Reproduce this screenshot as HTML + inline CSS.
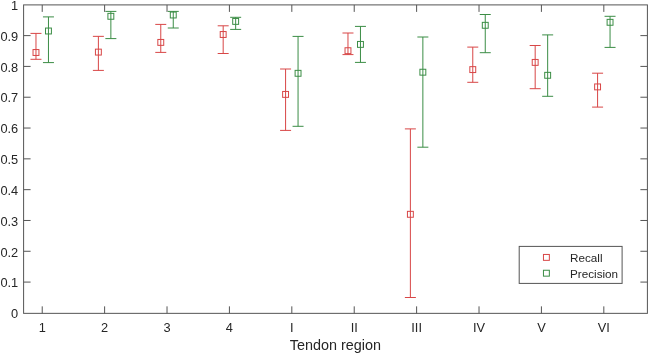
<!DOCTYPE html><html><head><meta charset="utf-8"><style>html,body{margin:0;padding:0;background:#fff;}svg{display:block;will-change:transform;}text{font-family:"Liberation Sans",sans-serif;}</style></head><body>
<svg width="649" height="354" viewBox="0 0 649 354">
<rect width="649" height="354" fill="#fff"/>
<path d="M23.6 282.09h7M647.4 282.09h-7 M23.6 251.28h7M647.4 251.28h-7 M23.6 220.47h7M647.4 220.47h-7 M23.6 189.66h7M647.4 189.66h-7 M23.6 158.85h7M647.4 158.85h-7 M23.6 128.04h7M647.4 128.04h-7 M23.6 97.23h7M647.4 97.23h-7 M23.6 66.42h7M647.4 66.42h-7 M23.6 35.61h7M647.4 35.61h-7 M42.22 313.35v-7M42.22 4.9v7 M104.62 313.35v-7M104.62 4.9v7 M167.02 313.35v-7M167.02 4.9v7 M229.42 313.35v-7M229.42 4.9v7 M291.82 313.35v-7M291.82 4.9v7 M354.22 313.35v-7M354.22 4.9v7 M416.62 313.35v-7M416.62 4.9v7 M479.02 313.35v-7M479.02 4.9v7 M541.42 313.35v-7M541.42 4.9v7 M603.82 313.35v-7M603.82 4.9v7" stroke="#555" stroke-width="1" fill="none"/>
<rect x="23.6" y="4.9" width="623.8" height="308.45000000000005" stroke="#555" stroke-width="1" fill="none"/>
<text x="18.2" y="318.1" font-size="12.8" text-anchor="end" fill="#262626">0</text>
<text x="18.2" y="287.3" font-size="12.8" text-anchor="end" fill="#262626">0.1</text>
<text x="18.2" y="256.5" font-size="12.8" text-anchor="end" fill="#262626">0.2</text>
<text x="18.2" y="225.7" font-size="12.8" text-anchor="end" fill="#262626">0.3</text>
<text x="18.2" y="194.9" font-size="12.8" text-anchor="end" fill="#262626">0.4</text>
<text x="18.2" y="164.0" font-size="12.8" text-anchor="end" fill="#262626">0.5</text>
<text x="18.2" y="133.2" font-size="12.8" text-anchor="end" fill="#262626">0.6</text>
<text x="18.2" y="102.4" font-size="12.8" text-anchor="end" fill="#262626">0.7</text>
<text x="18.2" y="71.6" font-size="12.8" text-anchor="end" fill="#262626">0.8</text>
<text x="18.2" y="40.8" font-size="12.8" text-anchor="end" fill="#262626">0.9</text>
<text x="18.2" y="10.0" font-size="12.8" text-anchor="end" fill="#262626">1</text>
<text x="42.22" y="331.5" font-size="12.8" text-anchor="middle" fill="#262626">1</text>
<text x="104.62" y="331.5" font-size="12.8" text-anchor="middle" fill="#262626">2</text>
<text x="167.02" y="331.5" font-size="12.8" text-anchor="middle" fill="#262626">3</text>
<text x="229.42" y="331.5" font-size="12.8" text-anchor="middle" fill="#262626">4</text>
<text x="291.82" y="331.5" font-size="12.8" text-anchor="middle" fill="#262626">I</text>
<text x="354.22" y="331.5" font-size="12.8" text-anchor="middle" fill="#262626">II</text>
<text x="416.62" y="331.5" font-size="12.8" text-anchor="middle" fill="#262626">III</text>
<text x="479.02" y="331.5" font-size="12.8" text-anchor="middle" fill="#262626">IV</text>
<text x="541.42" y="331.5" font-size="12.8" text-anchor="middle" fill="#262626">V</text>
<text x="603.82" y="331.5" font-size="12.8" text-anchor="middle" fill="#262626">VI</text>
<text x="335.35" y="349.9" font-size="14.4" text-anchor="middle" fill="#262626">Tendon region</text>
<path d="M35.98 33.40V59.30M30.48 33.40h11.0M30.48 59.30h11.0" stroke="#d84646" stroke-width="1" fill="none"/><rect x="33.03" y="49.55" width="5.9" height="5.9" fill="none" stroke="#d84646" stroke-width="1"/>
<path d="M48.46 16.90V62.60M42.96 16.90h11.0M42.96 62.60h11.0" stroke="#3b8d45" stroke-width="1" fill="none"/><rect x="45.51" y="28.05" width="5.9" height="5.9" fill="none" stroke="#3b8d45" stroke-width="1"/>
<path d="M98.38 36.35V70.40M92.88 36.35h11.0M92.88 70.40h11.0" stroke="#d84646" stroke-width="1" fill="none"/><rect x="95.43" y="49.15" width="5.9" height="5.9" fill="none" stroke="#d84646" stroke-width="1"/>
<path d="M110.86 11.40V38.60M105.36 11.40h11.0M105.36 38.60h11.0" stroke="#3b8d45" stroke-width="1" fill="none"/><rect x="107.91" y="13.35" width="5.9" height="5.9" fill="none" stroke="#3b8d45" stroke-width="1"/>
<path d="M160.78 24.40V52.40M155.28 24.40h11.0M155.28 52.40h11.0" stroke="#d84646" stroke-width="1" fill="none"/><rect x="157.83" y="39.45" width="5.9" height="5.9" fill="none" stroke="#d84646" stroke-width="1"/>
<path d="M173.26 11.40V28.00M167.76 11.40h11.0M167.76 28.00h11.0" stroke="#3b8d45" stroke-width="1" fill="none"/><rect x="170.31" y="12.05" width="5.9" height="5.9" fill="none" stroke="#3b8d45" stroke-width="1"/>
<path d="M223.18 25.80V53.50M217.68 25.80h11.0M217.68 53.50h11.0" stroke="#d84646" stroke-width="1" fill="none"/><rect x="220.23" y="31.55" width="5.9" height="5.9" fill="none" stroke="#d84646" stroke-width="1"/>
<path d="M235.66 17.30V29.40M230.16 17.30h11.0M230.16 29.40h11.0" stroke="#3b8d45" stroke-width="1" fill="none"/><rect x="232.71" y="18.45" width="5.9" height="5.9" fill="none" stroke="#3b8d45" stroke-width="1"/>
<path d="M285.58 69.00V130.40M280.08 69.00h11.0M280.08 130.40h11.0" stroke="#d84646" stroke-width="1" fill="none"/><rect x="282.63" y="91.45" width="5.9" height="5.9" fill="none" stroke="#d84646" stroke-width="1"/>
<path d="M298.06 36.40V126.30M292.56 36.40h11.0M292.56 126.30h11.0" stroke="#3b8d45" stroke-width="1" fill="none"/><rect x="295.11" y="70.35" width="5.9" height="5.9" fill="none" stroke="#3b8d45" stroke-width="1"/>
<path d="M347.98 33.00V54.60M342.48 33.00h11.0M342.48 54.60h11.0" stroke="#d84646" stroke-width="1" fill="none"/><rect x="345.03" y="47.75" width="5.9" height="5.9" fill="none" stroke="#d84646" stroke-width="1"/>
<path d="M360.46 26.40V62.40M354.96 26.40h11.0M354.96 62.40h11.0" stroke="#3b8d45" stroke-width="1" fill="none"/><rect x="357.51" y="41.45" width="5.9" height="5.9" fill="none" stroke="#3b8d45" stroke-width="1"/>
<path d="M410.38 128.90V297.50M404.88 128.90h11.0M404.88 297.50h11.0" stroke="#d84646" stroke-width="1" fill="none"/><rect x="407.43" y="211.35" width="5.9" height="5.9" fill="none" stroke="#d84646" stroke-width="1"/>
<path d="M422.86 37.00V147.20M417.36 37.00h11.0M417.36 147.20h11.0" stroke="#3b8d45" stroke-width="1" fill="none"/><rect x="419.91" y="69.25" width="5.9" height="5.9" fill="none" stroke="#3b8d45" stroke-width="1"/>
<path d="M472.78 47.10V82.30M467.28 47.10h11.0M467.28 82.30h11.0" stroke="#d84646" stroke-width="1" fill="none"/><rect x="469.83" y="66.65" width="5.9" height="5.9" fill="none" stroke="#d84646" stroke-width="1"/>
<path d="M485.26 14.50V52.70M479.76 14.50h11.0M479.76 52.70h11.0" stroke="#3b8d45" stroke-width="1" fill="none"/><rect x="482.31" y="22.35" width="5.9" height="5.9" fill="none" stroke="#3b8d45" stroke-width="1"/>
<path d="M535.18 45.50V88.70M529.68 45.50h11.0M529.68 88.70h11.0" stroke="#d84646" stroke-width="1" fill="none"/><rect x="532.23" y="59.45" width="5.9" height="5.9" fill="none" stroke="#d84646" stroke-width="1"/>
<path d="M547.66 34.90V96.30M542.16 34.90h11.0M542.16 96.30h11.0" stroke="#3b8d45" stroke-width="1" fill="none"/><rect x="544.71" y="72.35" width="5.9" height="5.9" fill="none" stroke="#3b8d45" stroke-width="1"/>
<path d="M597.58 73.20V107.10M592.08 73.20h11.0M592.08 107.10h11.0" stroke="#d84646" stroke-width="1" fill="none"/><rect x="594.63" y="83.95" width="5.9" height="5.9" fill="none" stroke="#d84646" stroke-width="1"/>
<path d="M610.06 16.30V47.40M604.56 16.30h11.0M604.56 47.40h11.0" stroke="#3b8d45" stroke-width="1" fill="none"/><rect x="607.11" y="19.35" width="5.9" height="5.9" fill="none" stroke="#3b8d45" stroke-width="1"/>
<rect x="519.2" y="246.4" width="102.9" height="37" fill="#fff" stroke="#555" stroke-width="1"/>
<rect x="543.45" y="254.45" width="5.9" height="5.9" fill="none" stroke="#d84646" stroke-width="1"/>
<rect x="543.45" y="270.25" width="5.9" height="5.9" fill="none" stroke="#3b8d45" stroke-width="1"/>
<text x="570.0" y="261.7" font-size="11.7" fill="#262626">Recall</text>
<text x="570.0" y="277.7" font-size="11.7" fill="#262626">Precision</text>
</svg></body></html>
